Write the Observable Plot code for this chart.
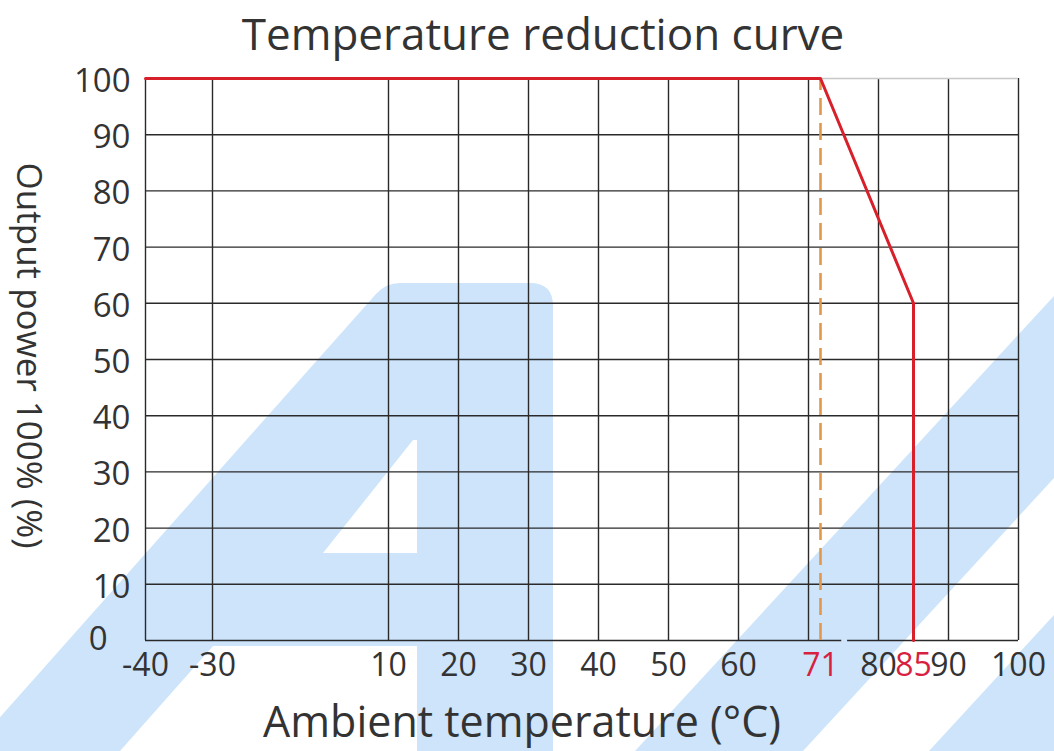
<!DOCTYPE html>
<html><head><meta charset="utf-8">
<script src="https://cdn.jsdelivr.net/npm/d3@7"></script>
<script src="https://cdn.jsdelivr.net/npm/@observablehq/plot@0.6"></script>
<style>html,body{margin:0;padding:0;background:#fff}#chart svg{display:block}</style>
</head><body><div id="chart"></div>
<script>
// ---- data ----
const curveTemp  = [-40, 71, 85, 85];
const curvePower = [100, 100, 60, 0];
const derateStart = 71;
const xTickLabels = [-40, -30, 10, 20, 30, 40, 50, 60, 71, 80, 85, 90, 100];
const redTickLabels = [71, 85];
const xGridLines = [-40, -30, 10, 20, 30, 40, 50, 60, 70, 80, 90, 100];
const yTicks = [0, 10, 20, 30, 40, 50, 60, 70, 80, 90, 100];
const xBreaks = [-40, -30, 10, 70, 71, 80, 100];          // the axis is not evenly spaced
const baseSegments = [[-40, 74.3], [75.2, 100]];          // bottom line has a small gap
const titleText = "Temperature reduction curve";
const xLabelText = "Ambient temperature (°C)";
const yLabelText = "Output power 100% (%)";

const curve = curveTemp.map((t, i) => ({t, p: curvePower[i]}));
const font = "Open Sans, Noto Sans, sans-serif";
const ink = "#2a2a2a";
const textInk = "#333333";

const plot = Plot.plot({
  width: 1054, height: 751,
  marginLeft: 145, marginRight: 36, marginTop: 78, marginBottom: 111,
  style: {fontFamily: font, background: "transparent"},
  x: {type: "linear", domain: xBreaks, range: [145, 212, 388, 808, 820, 878, 1018], axis: null},
  y: {domain: [0, 100], range: [640, 78], axis: null},
  marks: [
    Plot.ruleX(xGridLines, {x: d => d, y1: 0, y2: 100, stroke: ink, strokeWidth: 1.4}),
    Plot.ruleY(yTicks.filter(d => d > 0 && d < 100), {y: d => d, x1: -40, x2: 100, stroke: ink, strokeWidth: 1.4}),
    Plot.ruleY([100], {y: d => d, x1: -40, x2: 100, stroke: "#c8c8c8", strokeWidth: 1.4}),
    Plot.ruleY(baseSegments, {y: 0, x1: d => d[0], x2: d => d[1], stroke: ink, strokeWidth: 1.6}),
    Plot.ruleX([derateStart], {x: d => d, y1: 0, y2: 100, stroke: "#e2984a", strokeWidth: 2.6, strokeDasharray: "17,8"}),
    Plot.line(curve, {x: "t", y: "p", stroke: "#d8202b", strokeWidth: 3}),
    Plot.text(yTicks.filter(d => d > 0), {y: d => d, text: d => String(d), frameAnchor: "left", dx: -15, dy: 3, textAnchor: "end", fontSize: 33, fill: textInk}),
    Plot.text([0], {y: d => d, text: d => String(d), frameAnchor: "left", dx: -38, dy: -1, textAnchor: "end", fontSize: 33, fill: textInk}),
    Plot.text(xTickLabels, {x: d => d, text: d => String(d), frameAnchor: "bottom", dy: 35, fontSize: 32,
      fill: d => redTickLabels.includes(d) ? "#d81f3f" : textInk}),
    Plot.text([titleText], {text: d => d, frameAnchor: "top", dx: -39, dy: -60, fontSize: 44, fill: textInk}),
    Plot.text([xLabelText], {text: d => d, frameAnchor: "bottom", dx: -60, dy: 96, fontSize: 43, fill: textInk}),
    Plot.text([yLabelText], {text: d => d, frameAnchor: "left", dx: -117, dy: -4, rotate: 90, textAnchor: "middle", fontSize: 35, fill: textInk})
  ]
});

// pale blue watermark behind the chart (decoration only)
const ns = "http://www.w3.org/2000/svg";
const wm = document.createElementNS(ns, "g");
wm.setAttribute("aria-label", "watermark");
const blue = "#cde4fb";
const shapes = [
  "M -30 751 L 376 294 Q 386 283 400 283 L 530 283 Q 553 283 553 306 L 553 751 L 417 751 L 417 646 L 213 646 L 120 751 Z " +
  "M 323 553 L 413 440 L 417 440 L 417 553 Z",
  "M 1054 296 L 1054 478 L 803 751 L 635 751 Z",
  "M 1054 615 L 1054 751 L 929 751 Z"
];
shapes.forEach(d => {
  const p = document.createElementNS(ns, "path");
  p.setAttribute("d", d);
  p.setAttribute("fill", blue);
  p.setAttribute("fill-rule", "evenodd");
  wm.appendChild(p);
});
const firstG = plot.querySelector("g");
plot.insertBefore(wm, firstG);
document.getElementById("chart").appendChild(plot);
</script>
</body></html>
